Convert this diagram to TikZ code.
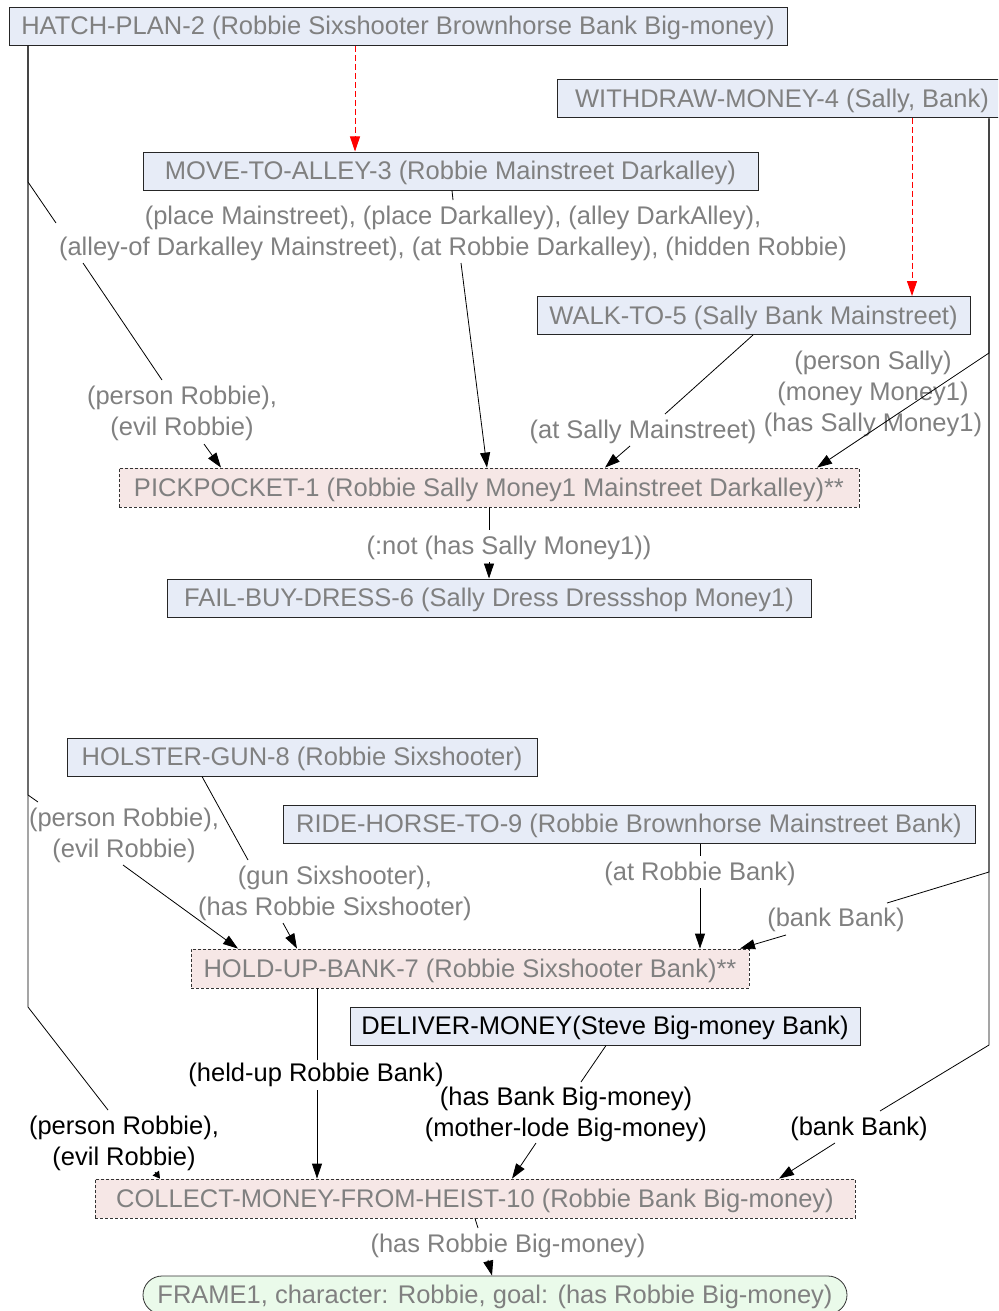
\documentclass[tikz,border=0pt]{standalone}
\usepackage{fontspec}
\setmainfont{Liberation Sans}
\usetikzlibrary{arrows.meta}
\definecolor{txtgray}{RGB}{128,128,128}
\definecolor{actfill}{RGB}{231,236,247}
\definecolor{failfill}{RGB}{246,231,230}
\definecolor{goalfill}{RGB}{234,250,234}

\begin{document}
\begin{tikzpicture}[x=1pt,y=-1pt,
  every node/.style={font=\fontsize{25.5}{31}\selectfont},
  oneline/.style={text height=17pt, text depth=0pt},
  act/.style={oneline, draw=black!85, fill=actfill, text=txtgray, minimum height=38pt, inner sep=0pt, line width=1pt},
  fail/.style={oneline, draw=black!80, dash pattern=on 3pt off 2pt, fill=failfill, text=txtgray, minimum height=39pt, inner sep=0pt, line width=0.8pt},
  goal/.style={oneline, draw=black!80, fill=goalfill, text=txtgray, rounded corners=19pt, minimum height=38pt, inner sep=0pt, line width=0.8pt},
  lbl/.style={text=txtgray, align=center, inner sep=0pt},
  lblk/.style={text=black, align=center, inner sep=0pt},
  plain/.style={line width=0.8pt},
  link/.style={line width=0.8pt, -{Triangle[length=15pt,width=10pt]}},
  stub/.style={line width=0.8pt, -{Triangle[length=7pt,width=8pt]}},
  plan/.style={red, dash pattern=on 6pt off 3pt, line width=0.9pt, -{Triangle[length=15pt,width=10pt]}},
]
\useasboundingbox (0,0) rectangle (998,1311);
\clip (0,0) rectangle (998,1311);

% actions
\node[act, minimum width=778pt] (hatch) at (398,26.5) {HATCH-PLAN-2 (Robbie Sixshooter Brownhorse Bank Big-money)};
\node[act, minimum width=450pt] (withdraw) at (782,99) {WITHDRAW-MONEY-4 (Sally, Bank)};
\node[act, minimum width=615pt] (move) at (450.5,171) {MOVE-TO-ALLEY-3 (Robbie Mainstreet Darkalley)};
\node[act, minimum width=433pt] (walk) at (753.5,315.5) {WALK-TO-5 (Sally Bank Mainstreet)};
\node[fail, minimum width=740pt] (pick) at (489,487.5) {PICKPOCKET-1 (Robbie Sally Money1 Mainstreet Darkalley)**};
\node[act, minimum width=644pt] (fail) at (489,598) {FAIL-BUY-DRESS-6 (Sally Dress Dressshop Money1)};
\node[act, minimum width=470pt] (holster) at (302,757) {HOLSTER-GUN-8 (Robbie Sixshooter)};
\node[act, minimum width=692pt] (ride) at (629,824) {RIDE-HORSE-TO-9 (Robbie Brownhorse Mainstreet Bank)};
\node[fail, minimum width=558pt] (hold) at (470,968.5) {HOLD-UP-BANK-7 (Robbie Sixshooter Bank)**};
\node[act, text=black, minimum width=510pt] (deliver) at (605,1026) {DELIVER-MONEY(Steve Big-money Bank)};
\node[fail, minimum width=760pt] (collect) at (475,1198.5) {COLLECT-MONEY-FROM-HEIST-10 (Robbie Bank Big-money)};
\node[goal, minimum width=704pt] (frame) at (495,1295) {FRAME1, character: Robbie, goal: (has Robbie Big-money)};

% edge labels
\node[lbl] (lmove) at (453,233) {(place Mainstreet), (place Darkalley), (alley DarkAlley),\\(alley-of Darkalley Mainstreet), (at Robbie Darkalley), (hidden Robbie)};
\node[lbl] (lpick1) at (182,413) {(person Robbie),\\(evil Robbie)};
\node[lbl, oneline] (lwalk) at (643,430) {(at Sally Mainstreet)};
\node[lbl] (lwd) at (873,394) {(person Sally)\\(money Money1)\\(has Sally Money1)};
\node[lbl, oneline] (lfail) at (509,546) {(:not (has Sally Money1))};
\node[lbl] (lhold1) at (124,835) {(person Robbie),\\(evil Robbie)};
\node[lbl] (lgun) at (335,893) {(gun Sixshooter),\\(has Robbie Sixshooter)};
\node[lbl, oneline] (lride) at (700,872) {(at Robbie Bank)};
\node[lbl, oneline] (lbank1) at (836,918) {(bank Bank)};
\node[lblk, oneline] (lheld) at (316,1073) {(held-up Robbie Bank)};
\node[lblk] (lcoll1) at (124,1143) {(person Robbie),\\(evil Robbie)};
\node[lblk] (ldeliver) at (566,1114) {(has Bank Big-money)\\(mother-lode Big-money)};
\node[lblk, oneline] (lbank2) at (859,1127) {(bank Bank)};
\node[lbl, oneline] (lgoal) at (508,1244) {(has Robbie Big-money)};

% plan orderings
\draw[plan] (355,0 |- hatch.south) -- (355,0 |- move.north);
\draw[plan] (912,0 |- withdraw.south) -- (912,0 |- walk.north);

% causal links into PICKPOCKET-1
\draw[plain] (28,0 |- hatch.south) -- (28,182) -- (56,223);
\draw[plain] (83,263) -- (162,380);
\draw[link] (204,444) -- (221,0 |- pick.north);
\draw[plain] (452,0 |- move.south) -- (453,200);
\draw[link] (461,263) -- (487,0 |- pick.north);
\draw[plain] (753,0 |- walk.south) -- (665,414);
\draw[link] (630,446) -- (605,0 |- pick.north);
\draw[link] (989,0 |- withdraw.south) -- (989,353) -- (817,0 |- pick.north);

% PICKPOCKET-1 to FAIL-BUY-DRESS-6
\draw[plain] (489,0 |- pick.south) -- (489,530);
\draw[link] (489,562) -- (489,0 |- fail.north);

% causal links into HOLD-UP-BANK-7
\draw[plain] (28,0 |- hatch.south) -- (28,795) -- (38,802);
\draw[link] (123,865) -- (238,0 |- hold.north);
\draw[plain] (202,0 |- holster.south) -- (248,860);
\draw[link] (283,923) -- (297,0 |- hold.north);
\draw[plain] (700,0 |- ride.south) -- (700,856);
\draw[link] (700,888) -- (700,0 |- hold.north);
\draw[plain] (989,0 |- withdraw.south) -- (989,872) -- (887,903);
\draw[link] (786,935) -- (740,0 |- hold.north);

% causal links into COLLECT-MONEY-FROM-HEIST-10
\draw[plain] (28,0 |- hatch.south) -- (28,1007) -- (108,1110);
\draw[stub] (155,1172) -- (160,0 |- collect.north);
\draw[plain] (317,0 |- hold.south) -- (317,1060);
\draw[link] (317,1090) -- (317,0 |- collect.north);
\draw[plain] (606,0 |- deliver.south) -- (581,1082);
\draw[link] (536,1143) -- (512,0 |- collect.north);
\draw[plain] (989,0 |- withdraw.south) -- (989,1045) -- (880,1111);
\draw[link] (835,1143) -- (779,0 |- collect.north);

% goal
\draw[plain] (475,0 |- collect.south) -- (478,1228);
\draw[link] (488,1260) -- (492,0 |- frame.north);
\end{tikzpicture}
\end{document}
